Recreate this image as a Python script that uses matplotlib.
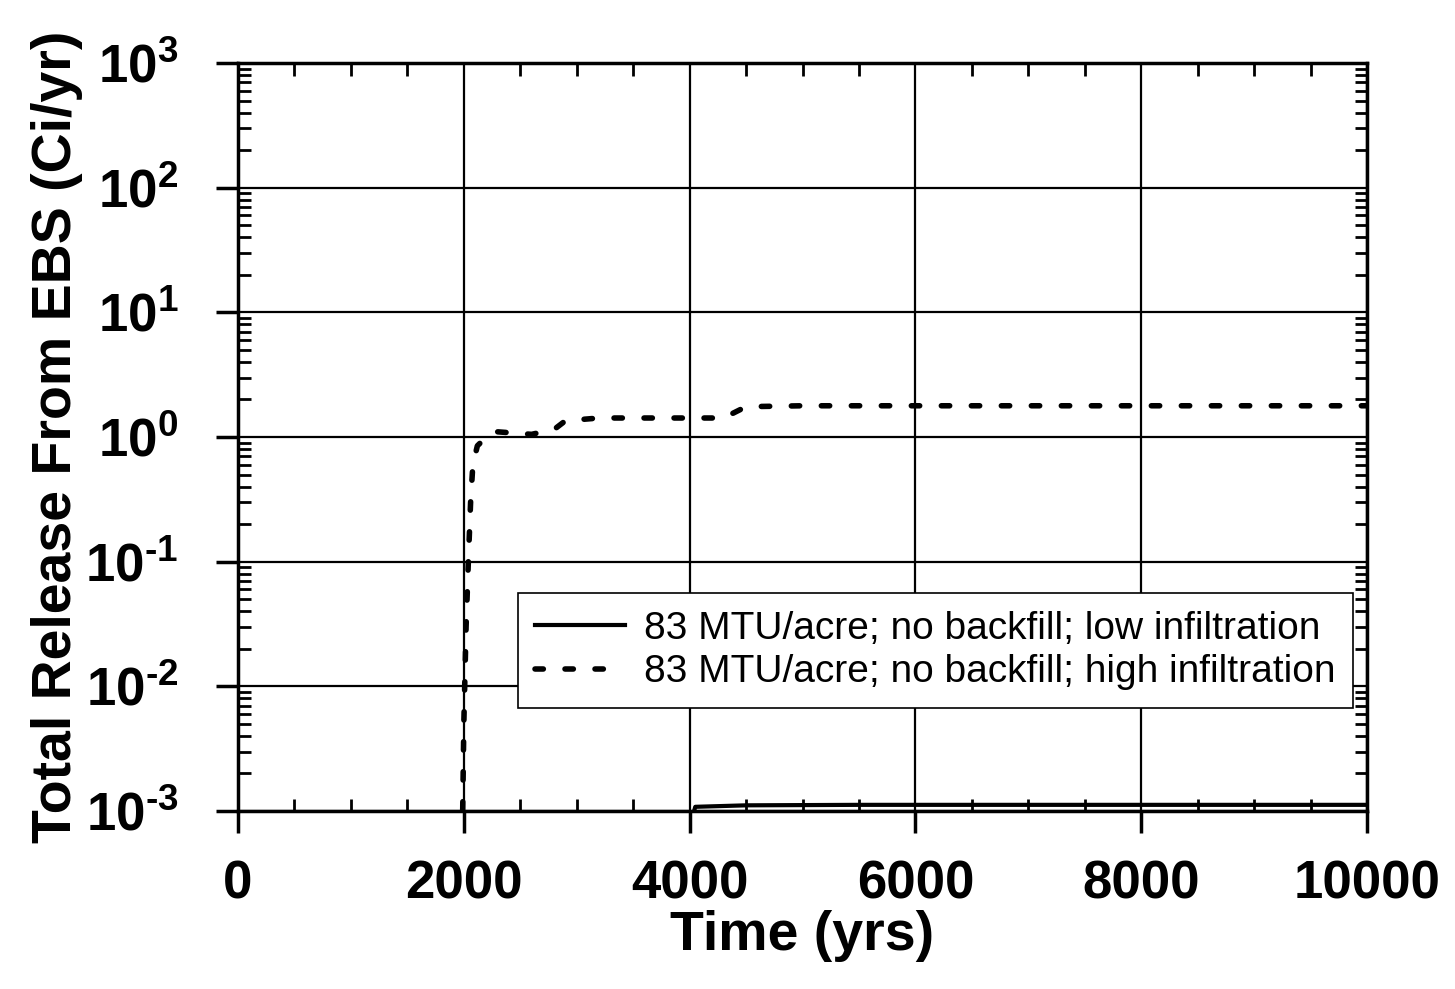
import matplotlib
matplotlib.use("Agg")
import matplotlib.pyplot as plt
from matplotlib.ticker import LogLocator, FuncFormatter, MultipleLocator
import numpy as np

plt.rcParams['font.family'] = ['Liberation Sans', 'DejaVu Sans']
plt.rcParams['mathtext.fontset'] = 'custom'
plt.rcParams['mathtext.rm'] = 'Liberation Sans:bold'
plt.rcParams['mathtext.bf'] = 'Liberation Sans:bold'

# data
t_low = [3900, 3980, 4010, 4050, 4500, 5500, 7000, 8500, 10000]
rel_low = [1e-5, 1e-5, 8e-4, 1.08e-3, 1.11e-3, 1.12e-3, 1.12e-3, 1.12e-3, 1.12e-3]

t_high = [1950, 1990, 2000, 2020, 2040, 2060, 2080, 2120, 2200, 2300, 2600,
          2800, 2900, 3200, 4300, 4500, 5000, 7000, 10000]
rel_high = [1e-5, 1e-3, 5e-3, 0.03, 0.1, 0.3, 0.6, 0.85, 1.0, 1.1, 1.05,
            1.15, 1.35, 1.42, 1.42, 1.75, 1.78, 1.78, 1.78]

labels = ["83 MTU/acre; no backfill; low infiltration",
          "83 MTU/acre; no backfill; high infiltration"]

fig = plt.figure(figsize=(14.55, 9.89), dpi=100)
ax = fig.add_axes([0.1636, 0.18, 0.9395 - 0.1636, 0.9363 - 0.18])

ax.plot(t_low, rel_low, color='black', lw=3, label=labels[0])
ax.plot(t_high, rel_high, color='black', lw=4, ls=(0, (1.5, 3.9)),
        dash_capstyle='round', label=labels[1])

ax.set_yscale('log')
ax.set_xlim(0, 10000)
ax.set_ylim(1e-3, 1e3)

ax.xaxis.set_major_locator(MultipleLocator(2000))
ax.xaxis.set_minor_locator(MultipleLocator(500))
ax.yaxis.set_major_locator(LogLocator(base=10, numticks=10))
ax.yaxis.set_minor_locator(LogLocator(base=10, subs=np.arange(2, 10), numticks=20))

def yfmt(v, pos):
    e = int(round(np.log10(v)))
    if e < 0:
        return r'$\mathbf{10^{\text{-}%d}}$' % (-e)
    return r'$\mathbf{10^{%d}}$' % e

ax.yaxis.set_major_formatter(FuncFormatter(yfmt))

ax.grid(True, which='major', color='black', lw=1.6)
for s in ax.spines.values():
    s.set_linewidth(2.5)

ax.tick_params(which='major', direction='out', length=16, width=2.5,
               labelsize=38)
ax.tick_params(axis='x', which='major', pad=19)
ax.tick_params(axis='y', which='major', pad=27)
ax.tick_params(which='minor', direction='in', length=9, width=2,
               top=True, right=True)
for lab in ax.get_xticklabels():
    lab.set_fontweight('bold')

ax.set_xlabel("Time (yrs)", fontsize=40, fontweight='bold', labelpad=0)
ax.set_ylabel("Total Release From EBS (Ci/yr)", fontsize=40,
              fontweight='bold', labelpad=2)

leg = ax.legend(loc='lower right', bbox_to_anchor=(0.9876, 0.1377),
                fontsize=28, frameon=True, fancybox=False,
                handlelength=2.3, borderpad=0.45, labelspacing=0.2,
                handletextpad=0.5, borderaxespad=0)
leg.get_frame().set_edgecolor('black')
leg.get_frame().set_linewidth(1.2)
leg.get_frame().set_alpha(1)

fig.savefig("out.png", dpi=100)
